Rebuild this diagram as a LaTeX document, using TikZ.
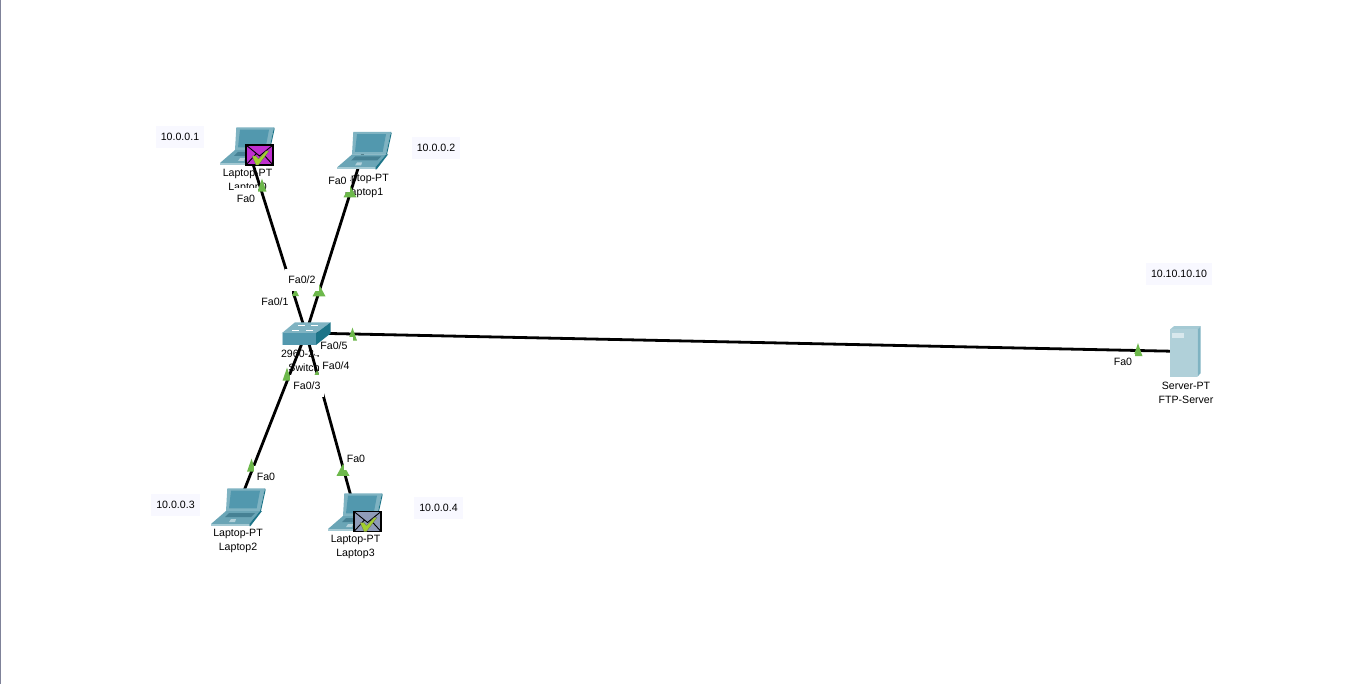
\documentclass[tikz,border=0pt]{standalone}
\usepackage{fontspec}
\setmainfont{Liberation Sans}
\usetikzlibrary{calc,shapes.geometric}

\definecolor{frameblue}{HTML}{7FB3C2}
\definecolor{screenblue}{HTML}{5298AE}
\definecolor{edgeblue}{HTML}{1C7488}
\definecolor{keyblue}{HTML}{6AA5B6}
\definecolor{upgreen}{HTML}{6DB84B}
\definecolor{boxtint}{HTML}{F8F8FF}
\definecolor{mailpurple}{HTML}{C02FD0}
\definecolor{mailgrey}{HTML}{8F9CB8}
\definecolor{checkgreen}{HTML}{A2CF2E}
\definecolor{winborder}{HTML}{7F8299}

\tikzset{
  devtext/.style={font=\fontsize{10.6}{14}\selectfont, align=center, inner sep=0pt},
  porttext/.style={font=\fontsize{10.6}{12}\selectfont, fill=white, inner xsep=3pt, minimum height=22pt, inner ysep=0pt},
  iptext/.style={font=\fontsize{10.6}{12}\selectfont, fill=boxtint, minimum height=22pt, inner xsep=5pt, inner ysep=0pt},
  link/.style={line width=2.8pt, black},
  updot/.style={isosceles triangle, isosceles triangle stretches, shape border rotate=90, fill=upgreen,
    inner sep=0pt, minimum width=13pt, minimum height=12pt},
  updotslim/.style={updot, minimum width=9pt, minimum height=13pt},
  updotsmall/.style={updot, minimum width=7pt, minimum height=7pt},
  pics/laptop/.style={code={
      \fill[frameblue] (-10.7,-17.7) -- (27,-17.7) -- (22,5) -- (-12,5) -- cycle;
      \fill[edgeblue] (27,-17.7) -- (27.6,-16) -- (23,5) -- (22,5) -- cycle;
      \fill[screenblue] (-7,-15.3) -- (22,-15.3) -- (18.7,2.3) -- (-9,2.3) -- cycle;
      \fill[keyblue] (-27,18) -- (-12,5) -- (22,5) -- (11.3,18) -- cycle;
      \fill[frameblue!70!white] (-27,18) -- (11.3,18) -- (11.3,20) -- (-27,20) -- cycle;
      \fill[edgeblue] (22,5) -- (24,5) -- (12.5,20) -- (11.3,20) -- (11.3,18) -- cycle;
      \fill[screenblue!85!black] (-9,7) -- (17,7) -- (13,11) -- (-13,11) -- cycle;
      \fill[frameblue!60!white] (-7,13) -- (-2,13) -- (-3,16) -- (-9,16) -- cycle;
  }},
  pics/mail/.style={code={
      \draw[fill=#1, line width=1.3pt] (0,0) rectangle (27,20);
      \draw[line width=0.9pt] (0,0) -- (13.5,11) -- (27,0) (0,20) -- (10,9) (27,20) -- (17,9);
      \fill[checkgreen, draw=black!60, line width=0.3pt] (6,11) -- (10,11) -- (12.5,14) -- (20,6)
        -- (23,6) -- (12.5,20) -- (10,20) -- cycle;
  }},
  pics/switchbox/.style={code={
      \fill[frameblue] (-24.3,0.3) -- (-11,-10.7) -- (24.7,-10.7) -- (10,0.3) -- cycle;
      \fill[screenblue] (-24.3,0.3) rectangle (10,12);
      \fill[frameblue!60!white] (-24.3,0.3) rectangle (-23,12);
      \fill[edgeblue] (10,0.3) -- (24.7,-10.7) -- (24.7,0.3) -- (10,12) -- cycle;
      \draw[white, line width=0.7pt] (-8,-8) -- (-1,-8) (5,-8) -- (12,-8) (-14,-3) -- (-7,-3) (0,-3) -- (7,-3);
  }},
  pics/serverbox/.style={code={
      \fill[frameblue!70!white] (-15,-22) -- (-11,-25.3) -- (15.7,-25.3) -- (12.3,-22) -- cycle;
      \fill[frameblue] (12.3,-22) -- (15.7,-25.3) -- (15.7,21.7) -- (12.3,25.3) -- cycle;
      \fill[frameblue!62!white] (-15,-22) rectangle (12.3,25.3);
      \fill[frameblue!30!white] (-13.3,-18) rectangle (-1,-13.3);
  }},
}

\begin{document}
\begin{tikzpicture}[x=1pt, y=-1pt]
  \useasboundingbox (0,0) rectangle (1366,684);
  \fill[white] (0,0) rectangle (1366,684);
  \draw[winborder, line width=1.5pt] (0.5,0) -- (0.5,684);

  % devices
  \coordinate (lap0) at (247,145);
  \coordinate (lap1) at (364,149.5);
  \coordinate (lap2) at (238,506);
  \coordinate (lap3) at (355,511);
  \coordinate (sw) at (306,333);
  \coordinate (srv) at (1185,351.5);

  % names below the icons
  \node[devtext] (name0) at ($(lap0)+(0.5,36)$) {Laptop-PT\\Laptop0};
  \node[devtext] (name1) at ($(lap1)+(0,36.5)$) {Laptop-PT\\Laptop1};
  \node[devtext] (name2) at ($(lap2)+(0,35)$) {Laptop-PT\\Laptop2};
  \node[devtext] (name3) at ($(lap3)+(0.5,36)$) {Laptop-PT\\Laptop3};
  \node[devtext] (name4) at ($(sw)+(1,28)$) {2960-24TT\\Switch0};
  \node[devtext] (name5) at ($(srv)+(1,41)$) {Server-PT\\FTP-Server};

  % cables
  \draw[link] (lap0) -- (sw);
  \draw[link] (lap1) -- (sw);
  \draw[link] (lap2) -- (sw);
  \draw[link] (lap3) -- (sw);
  \draw[link] (sw) -- (srv);

  % link lights
  \node[updotslim] (up0a) at (262,188.5) {};
  \node[updotsmall] (up0b) at (295.5,294) {};
  \node[updot] (up1a) at (350,193.5) {};
  \node[updot] (up1b) at (319,292.5) {};
  \node[updotslim] (up2b) at (287,377.5) {};
  \node[updotslim] (up2a) at (251.5,468.5) {};
  \node[updot] (up3a) at (343,472) {};
  \node[updot] (up3b) at (317,378.5) {};
  \node[updotslim] (up4a) at (352.5,337.5) {};
  \node[updotslim] (up4b) at (1138,353) {};

  % port names
  \node[porttext] (p0a) at (246,199) {Fa0};
  \node[porttext] (p1a) at (337.5,181) {Fa0};
  \node[porttext] (p2a) at (266,477) {Fa0};
  \node[porttext] (p3a) at (356,459) {Fa0};
  \node[porttext, minimum height=16pt] (p4a) at (1123,362) {Fa0};
  \node[porttext] (p0b) at (275,302) {Fa0/1};
  \node[porttext] (p1b) at (302,280) {Fa0/2};
  \node[porttext, minimum height=18pt, inner xsep=5pt] (p4b) at (334,346) {Fa0/5};
  \node[porttext] (p3b) at (336,366) {Fa0/4};
  \node[porttext] (p2b) at (307,386) {Fa0/3};

  % icons
  \pic at (lap0) {laptop};
  \pic at (lap1) {laptop};
  \pic at (lap2) {laptop};
  \pic at (lap3) {laptop};
  \pic at (sw) {switchbox};
  \pic at (srv) {serverbox};
  \pic at ($(lap0)+(-1,0)$) {mail=mailpurple};
  \pic at ($(lap3)+(-1,0.5)$) {mail=mailgrey};

  % addresses
  \node[iptext] (ip0) at (180,137) {10.0.0.1};
  \node[iptext] (ip1) at (436,148) {10.0.0.2};
  \node[iptext] (ip2) at (175.5,505) {10.0.0.3};
  \node[iptext] (ip3) at (438.5,508) {10.0.0.4};
  \node[iptext] (ip4) at (1179,274) {10.10.10.10};
\end{tikzpicture}
\end{document}
